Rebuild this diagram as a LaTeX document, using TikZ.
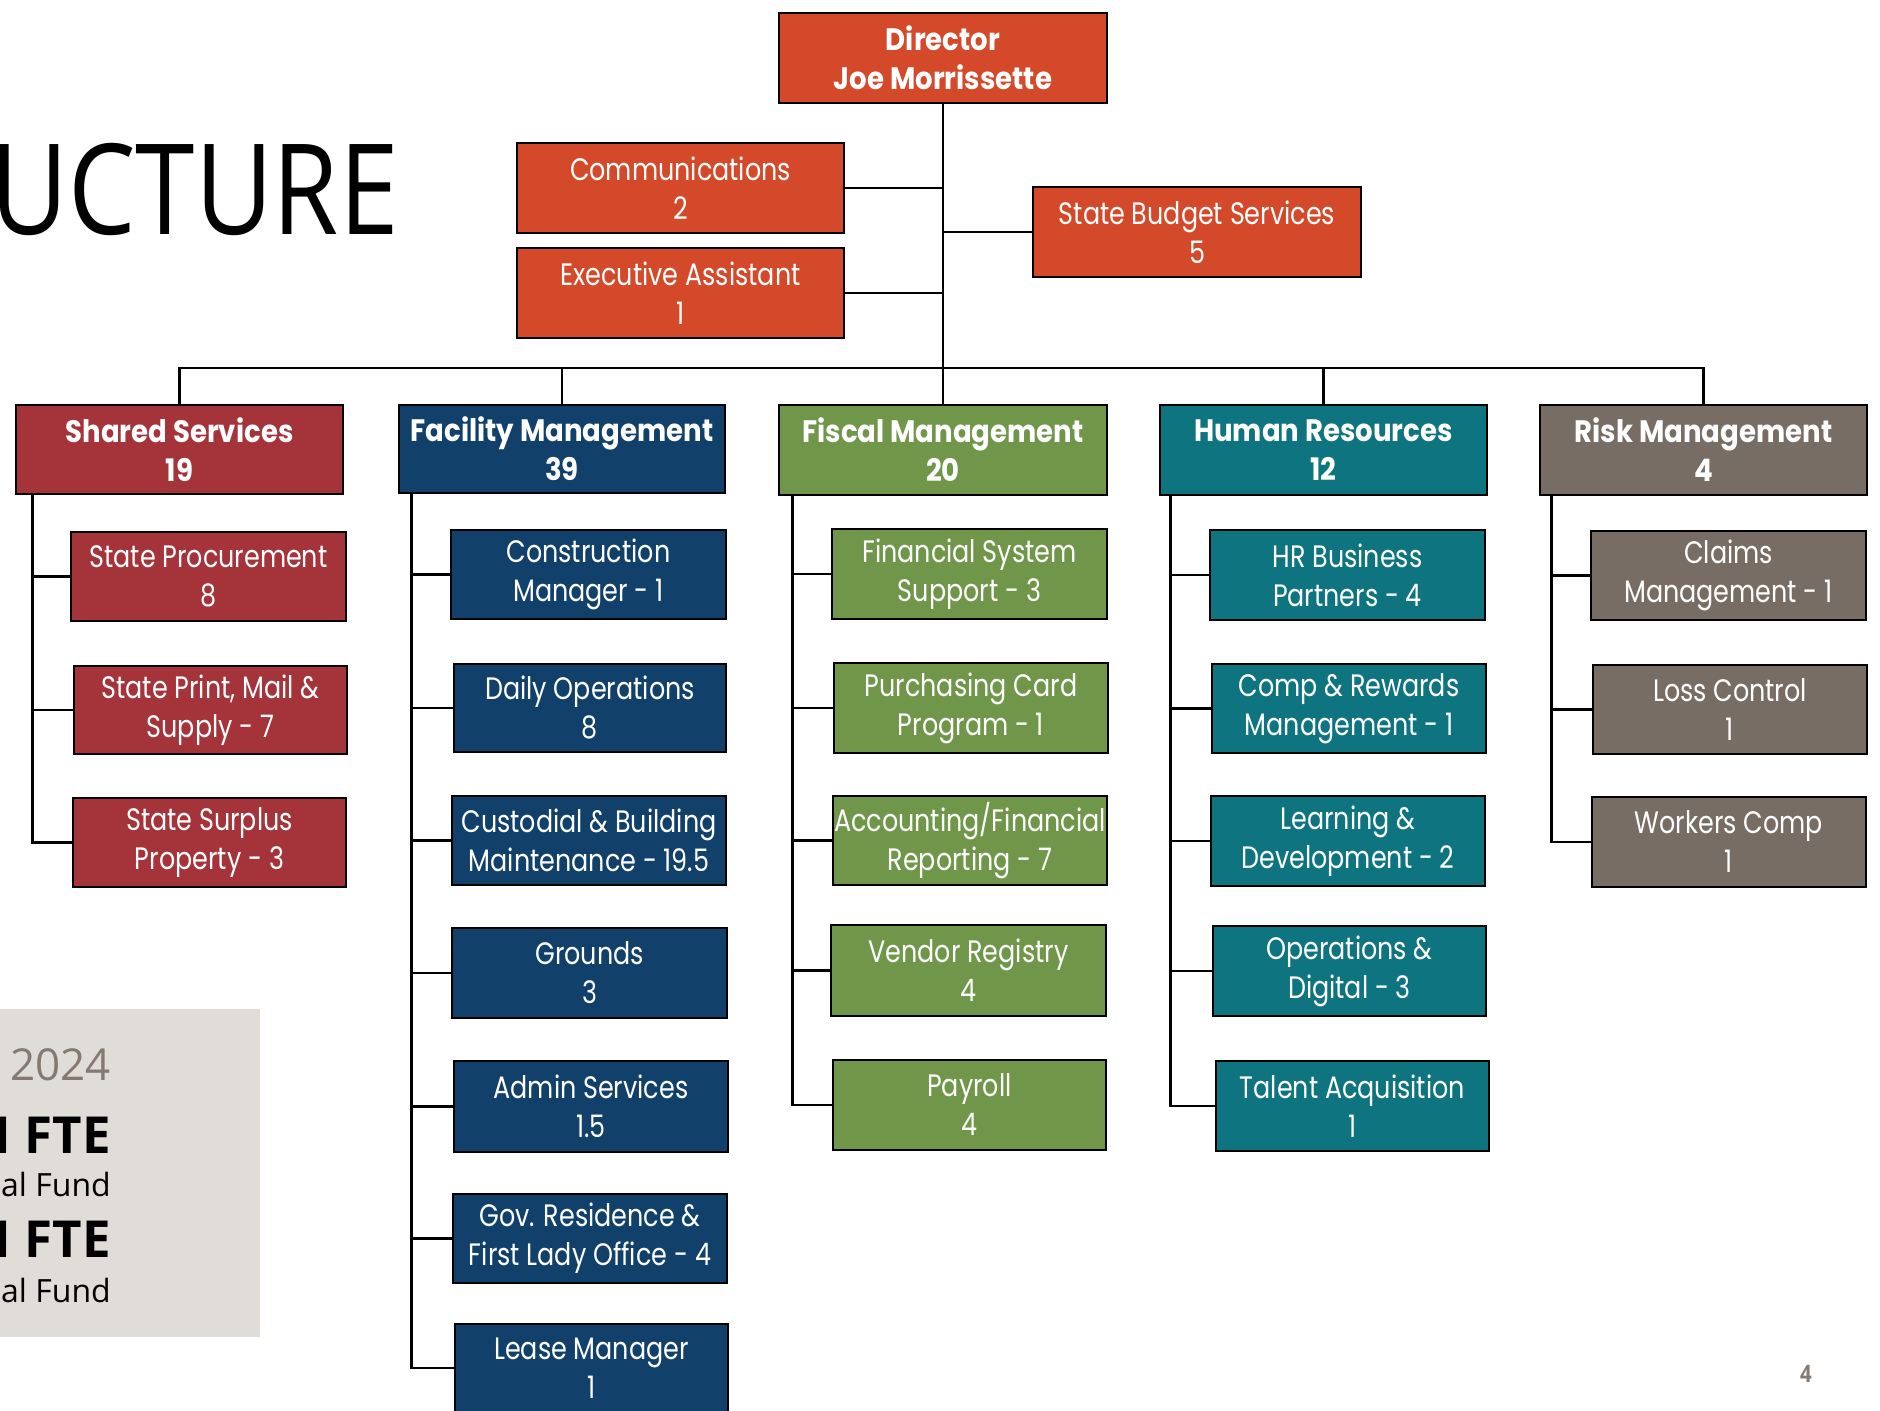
\documentclass[tikz,border=0pt]{standalone}
\usepackage{fontspec}
\setmainfont{Poppins}
\newfontfamily\boxfont[FakeStretch=0.82]{Poppins}
\newfontfamily\headfont[FakeStretch=0.89]{Poppins}
\newfontfamily\slidefont[FakeStretch=0.85]{Open Sans}
\newfontfamily\panelfont{Open Sans}
\definecolor{cOrange}{HTML}{D4492A}
\definecolor{cRed}{HTML}{A5333A}
\definecolor{cNavy}{HTML}{11406A}
\definecolor{cGreen}{HTML}{70964A}
\definecolor{cTeal}{HTML}{0D7480}
\definecolor{cTaupe}{HTML}{786D65}
\definecolor{cPanel}{HTML}{E0DDD8}
\definecolor{cGrayText}{HTML}{857A72}
\tikzset{
  box/.style={draw=black, line width=2.8pt, inner sep=0pt, text=white, align=center,
    font=\boxfont\fontsize{31}{39}\selectfont},
  head/.style={font=\headfont\bfseries\fontsize{31}{39}\selectfont},
  conn/.style={draw=black, line width=2.8pt}
}
\newcommand\bx[8][]{\node[box,#1,fill=#7,minimum width={(#5-#3)*1pt},minimum height={(#6-#4)*1pt}] (#2) at ({(#3+#5)/2},{(#4+#6)/2}) {#8};}
\begin{document}
\begin{tikzpicture}[x=1pt,y=-1pt]
\useasboundingbox (0,0) rectangle (1880,1411);
\clip (0,0) rectangle (1880,1411);
\fill[white] (0,0) rectangle (1880,1411);
% slide elements
\node[anchor=base east, inner sep=0pt, font=\slidefont\fontsize{126}{130}\selectfont, text=black] (title) at (399,234) {STRUCTURE};
\fill[cPanel] (0,1009) rectangle (260,1337);
\node[anchor=base east, inner sep=0pt, font=\panelfont\fontsize{44}{48}\selectfont, text=cGrayText] (yr) at (111,1080) {2024};
\node[anchor=base east, inner sep=0pt, font=\panelfont\bfseries\fontsize{51}{56}\selectfont, text=black] (fte1) at (111,1153) {1\hspace{0.2em}FTE};
\node[anchor=base east, inner sep=0pt, font=\panelfont\fontsize{32}{36}\selectfont, text=black] (fund1) at (111,1196) {al Fund};
\node[anchor=base east, inner sep=0pt, font=\panelfont\bfseries\fontsize{51}{56}\selectfont, text=black] (fte2) at (111,1257) {1\hspace{0.2em}FTE};
\node[anchor=base east, inner sep=0pt, font=\panelfont\fontsize{32}{36}\selectfont, text=black] (fund2) at (111,1302) {al Fund};
\node[anchor=base, inner sep=0pt, font=\slidefont\bfseries\fontsize{24}{28}\selectfont, text=cGrayText] (pg) at (1806,1382) {4};
% top
\bx[head]{dir}{779}{13}{1107}{103}{cOrange}{Director\\Joe Morrissette}
\bx{comm}{517}{143}{844}{233}{cOrange}{Communications\\2}
\bx{exa}{517}{248}{844}{338}{cOrange}{Executive Assistant\\1}
\bx{sbs}{1033}{187}{1361}{277}{cOrange}{State Budget Services\\5}
% level 1
\bx[head]{ss}{16}{405}{343}{494}{cRed}{Shared Services\\19}
\bx[head]{fac}{399}{405}{725}{493}{cNavy}{Facility Management\\39}
\bx[head]{fis}{779}{405}{1107}{495}{cGreen}{Fiscal Management\\20}
\bx[head]{hr}{1160}{405}{1487}{495}{cTeal}{Human Resources\\12}
\bx[head]{rm}{1540}{405}{1867}{495}{cTaupe}{Risk Management\\4}
% shared
\bx{sp}{71}{532}{346}{621}{cRed}{State Procurement\\8}
\bx{spm}{74}{666}{347}{754}{cRed}{State Print, Mail \&\\Supply - 7}
\bx{ssp}{73}{798}{346}{887}{cRed}{State Surplus\\Property - 3}
% facility
\bx{cm}{451}{530}{726}{619}{cNavy}{Construction\\Manager - 1}
\bx{dop}{454}{664}{726}{752}{cNavy}{Daily Operations\\8}
\bx{cb}{452}{796}{726}{885}{cNavy}{Custodial \& Building\\Maintenance - 19.5}
\bx{gr}{452}{928}{727}{1018}{cNavy}{Grounds\\3}
\bx{as}{454}{1061}{728}{1152}{cNavy}{Admin Services\\1.5}
\bx{gov}{453}{1194}{727}{1283}{cNavy}{Gov. Residence \&\\First Lady Office - 4}
\bx{lm}{455}{1324}{728}{1412}{cNavy}{Lease Manager\\1}
% fiscal
\bx{fss}{832}{529}{1107}{619}{cGreen}{Financial System\\Support - 3}
\bx{pc}{834}{663}{1108}{753}{cGreen}{Purchasing Card\\Program - 1}
\bx{af}{833}{796}{1107}{885}{cGreen}{Accounting/Financial\\Reporting - 7}
\bx{vr}{831}{925}{1106}{1016}{cGreen}{Vendor Registry\\4}
\bx{pay}{833}{1060}{1106}{1150}{cGreen}{Payroll\\4}
% hr
\bx{hrb}{1210}{530}{1485}{620}{cTeal}{HR Business\\Partners - 4}
\bx{crm}{1212}{664}{1486}{753}{cTeal}{Comp \& Rewards\\Management - 1}
\bx{ld}{1211}{796}{1485}{886}{cTeal}{Learning \&\\Development - 2}
\bx{od}{1213}{926}{1486}{1016}{cTeal}{Operations \&\\Digital - 3}
\bx{ta}{1216}{1061}{1489}{1151}{cTeal}{Talent Acquisition\\1}
% risk
\bx{cl}{1591}{531}{1866}{620}{cTaupe}{Claims\\Management - 1}
\bx{lc}{1593}{665}{1867}{754}{cTaupe}{Loss Control\\1}
\bx{wc}{1592}{797}{1866}{887}{cTaupe}{Workers Comp\\1}
% connectors
\draw[conn] (dir.south) -- (fis.north);
\draw[conn] (comm.east) -- (comm.east -| dir.south);
\draw[conn] (exa.east) -- (exa.east -| dir.south);
\draw[conn] (sbs.west) -- (sbs.west -| dir.south);
\coordinate (bus) at (0,368);
\draw[conn] (ss.north) |- (bus -| rm.north) -- (rm.north);
\draw[conn] (fac.north) -- (fac.north |- bus);
\draw[conn] (hr.north) -- (hr.north |- bus);
\coordinate (ssv) at ([xshift=18pt]ss.south west);
\coordinate (facv) at ([xshift=14pt]fac.south west);
\coordinate (fisv) at ([xshift=15pt]fis.south west);
\coordinate (hrv) at ([xshift=12pt]hr.south west);
\coordinate (rmv) at ([xshift=13pt]rm.south west);
\foreach \c in {sp,spm,ssp} \draw[conn] (ssv) |- (\c.west);
\foreach \c in {cm,dop,cb,gr,as,gov,lm} \draw[conn] (facv) |- (\c.west);
\foreach \c in {fss,pc,af,vr,pay} \draw[conn] (fisv) |- (\c.west);
\foreach \c in {hrb,crm,ld,od,ta} \draw[conn] (hrv) |- (\c.west);
\foreach \c in {cl,lc,wc} \draw[conn] (rmv) |- (\c.west);
\end{tikzpicture}
\end{document}
